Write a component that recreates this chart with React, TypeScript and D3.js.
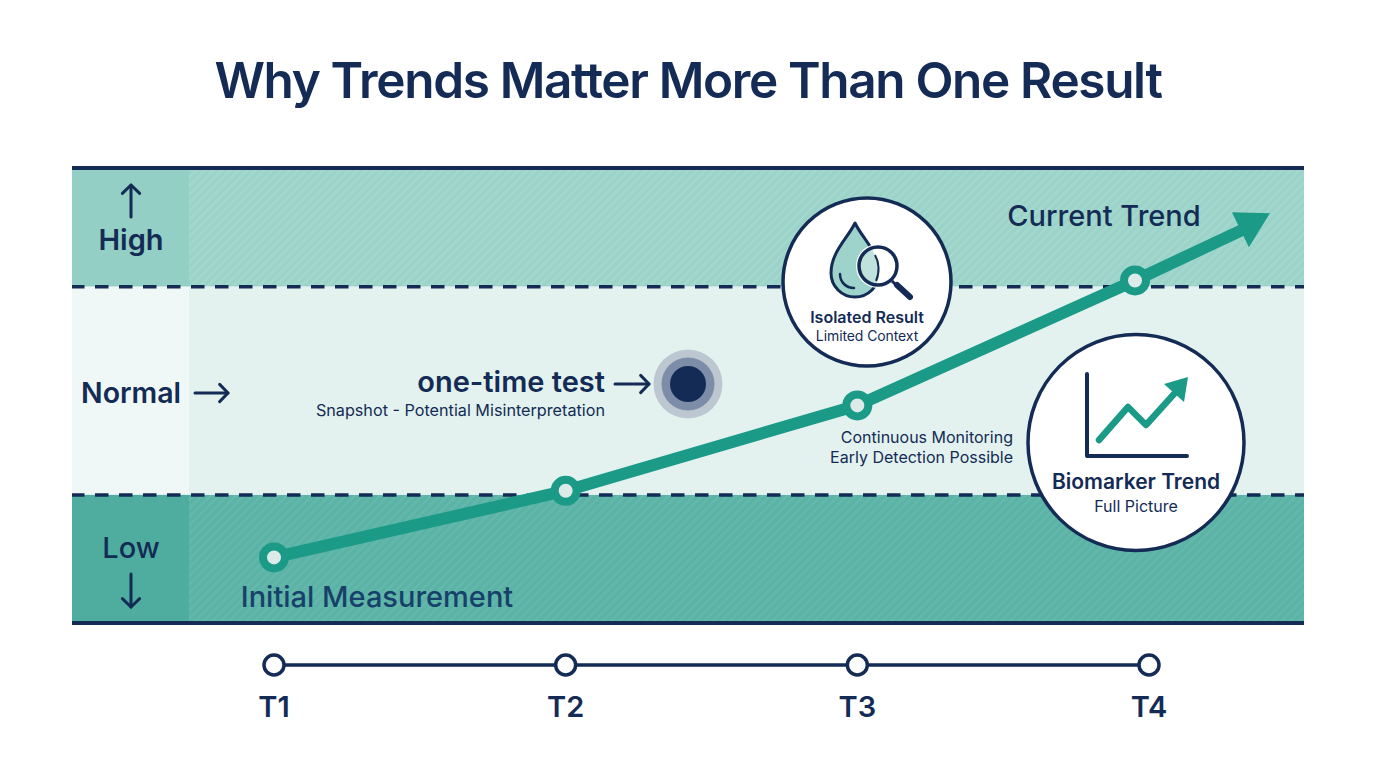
import React from "react";
import * as d3 from "d3";

const timeLabels = ["T1", "T2", "T3", "T4"];
const trendTimes = [0, 1, 2, 2.952];
const trendValues = [-30, 2, 43, 103];
const trendEnd = { index: 3.346, value: 129 };
const bandNames = ["High", "Normal", "Low"];
const bandTops = [157, 100, 0];
const bandBottoms = [100, 0, -61.5];
const bandFills = ["#9bd3c9", "#e3f2ef", "#5ab3a5"];
const bandStubFills = ["#93cfc4", "#eff8f7", "#4fad9f"];
const bandStripes = ["#a4d7ce", "#e3f2ef", "#63b8ab"];
const thresholds = [100, 0];

const NAVY = "#132b55";
const TEAL = "#1b9a88";
const FONT = "Inter, 'Noto Sans', sans-serif";

const W = 1376;
const H = 768;
const x = d3.scaleLinear().domain([0, 3]).range([274, 1149]);
const y = d3.scaleLinear().domain([-61.5, 157]).range([623, 168]);
const PLOT_L = 72;
const PLOT_R = 1304;
const STUB_R = 189;
const TL_Y = 665;

function Arrow({ x1, y1, x2, y2, size = 12, width = 3 }: any) {
  const a = Math.atan2(y2 - y1, x2 - x1);
  const p = (t: number) => `${x2 - size * Math.cos(a + t)},${y2 - size * Math.sin(a + t)}`;
  return (
    <g fill="none" stroke={NAVY} strokeWidth={width} strokeLinecap="round" strokeLinejoin="round">
      <line x1={x1} y1={y1} x2={x2} y2={y2} />
      <polyline points={`${p(0.8)} ${x2},${y2} ${p(-0.8)}`} />
    </g>
  );
}

function T({ x: tx, y: ty, size, weight = 600, anchor = "middle", fill = NAVY, spacing = 0, children }: any) {
  return (
    <text x={tx} y={ty} fontSize={size} fontWeight={weight} textAnchor={anchor} fill={fill} fontFamily={FONT} letterSpacing={spacing}>
      {children}
    </text>
  );
}

export default function App() {
  const pts: [number, number][] = trendValues.map((v, i) => [x(trendTimes[i]), y(v)]);
  const ex = x(trendEnd.index);
  const ey = y(trendEnd.value);
  const line = d3.line()(pts.concat([[ex, ey]])) as string;

  return (
    <svg
      width={W}
      height={H}
      viewBox={`0 0 ${W} ${H}`}
      style={{ position: "absolute", left: 0, top: 0, display: "block", background: "#fff" }}
    >
      <defs>
        {bandNames.map((n, i) => (
          <pattern key={n} id={`st${i}`} width="6" height="6" patternUnits="userSpaceOnUse" patternTransform="rotate(-45)">
            <rect width="6" height="6" fill={bandFills[i]} />
            <rect width="6" height="2.5" fill={bandStripes[i]} />
          </pattern>
        ))}
        <clipPath id="dropClip">
          <path d="M855,223 C848,238 831,252 831,273 A24,24 0 0 0 879,273 C879,252 862,238 855,223 Z" />
        </clipPath>
      </defs>

      <T x={688} y={98} size={49.5} spacing={-1.35}>Why Trends Matter More Than One Result</T>

      {bandNames.map((n, i) => (
        <g key={n}>
          <rect x={PLOT_L} y={y(bandTops[i])} width={PLOT_R - PLOT_L} height={y(bandBottoms[i]) - y(bandTops[i])} fill={`url(#st${i})`} />
          <rect x={PLOT_L} y={y(bandTops[i])} width={STUB_R - PLOT_L} height={y(bandBottoms[i]) - y(bandTops[i])} fill={bandStubFills[i]} />
        </g>
      ))}

      <line x1={PLOT_L} x2={PLOT_R} y1={y(157)} y2={y(157)} stroke={NAVY} strokeWidth={4} />
      <line x1={PLOT_L} x2={PLOT_R} y1={y(-61.5)} y2={y(-61.5)} stroke={NAVY} strokeWidth={4} />
      {thresholds.map((t) => (
        <line key={t} x1={PLOT_L} x2={PLOT_R} y1={y(t)} y2={y(t)} stroke={NAVY} strokeWidth={3.5} strokeDasharray="13.5 10.5" strokeDashoffset={1} />
      ))}

      <Arrow x1={131} y1={217} x2={131} y2={185} />
      <T x={131} y={250} size={29}>High</T>
      <T x={81} y={403} size={28.5} anchor="start">Normal</T>
      <Arrow x1={195} y1={393} x2={228} y2={393} />
      <T x={131} y={558} size={29} weight={500}>Low</T>
      <Arrow x1={131} y1={574} x2={131} y2={607} />

      {/* trend */}
      <path d={line} fill="none" stroke={TEAL} strokeWidth={12} strokeLinejoin="round" />
      <polygon points={`${ex + 20},${ey - 13} ${ex - 18},${ey - 14} ${ex - 1},${ey + 21}`} fill={TEAL} />
      {pts.map((p, i) => (
        <circle key={timeLabels[i]} cx={p[0]} cy={p[1]} r={11} fill="#dcebe8" stroke={TEAL} strokeWidth={8} />
      ))}

      <T x={1104} y={226} size={29} weight={500}>Current Trend</T>
      <T x={377} y={607} size={29} weight={500} fill="#17406a">Initial Measurement</T>

      {/* one-time test */}
      <T x={605} y={392} size={29} anchor="end">one-time test</T>
      <T x={605} y={416} size={16.2} weight={400} anchor="end">Snapshot - Potential Misinterpretation</T>
      <Arrow x1={615} y1={384} x2={649} y2={384} />
      <circle cx={688} cy={384} r={34.5} fill="#bcc7d1" />
      <circle cx={688} cy={384} r={26.5} fill="#7d8ca7" />
      <circle cx={688} cy={384} r={18} fill={NAVY} />

      <T x={1013} y={443} size={16} weight={400} anchor="end">Continuous Monitoring</T>
      <T x={1013} y={463} size={16} weight={400} anchor="end">Early Detection Possible</T>

      {/* isolated result */}
      <circle cx={867} cy={282} r={84} fill="#fff" stroke={NAVY} strokeWidth={3.5} />
      <path d="M855,223 C848,238 831,252 831,273 A24,24 0 0 0 879,273 C879,252 862,238 855,223 Z" fill="#9dd3ca" stroke={NAVY} strokeWidth={3} strokeLinejoin="round" />
      <path d="M840,274 C840,282 846,288 854,288" fill="none" stroke={NAVY} strokeWidth={2.5} strokeLinecap="round" />
      <circle cx={878} cy={266} r={22} fill="#fff" />
      <g clipPath="url(#dropClip)">
        <circle cx={878} cy={266} r={19} fill="#bfe2dc" />
      </g>
      <path d="M875,255 C879,262 880,272 876,281" fill="none" stroke={NAVY} strokeWidth={2} />
      <circle cx={878} cy={266} r={19} fill="none" stroke={NAVY} strokeWidth={3.5} />
      <line x1={892} y1={281} x2={898} y2={287} stroke={NAVY} strokeWidth={3} />
      <line x1={897} y1={285} x2={910} y2={297} stroke={NAVY} strokeWidth={6} strokeLinecap="round" />
      <T x={867} y={323} size={16}>Isolated Result</T>
      <T x={867} y={341} size={14} weight={400} spacing={-0.1}>Limited Context</T>

      {/* biomarker trend */}
      <circle cx={1136} cy={442.5} r={108} fill="#fff" stroke={NAVY} strokeWidth={3.5} />
      <polyline points="1087,374 1087,456 1187,456" fill="none" stroke={NAVY} strokeWidth={4} strokeLinecap="round" strokeLinejoin="round" />
      <polyline points="1099,440 1128,407 1146,425 1174,394" fill="none" stroke={TEAL} strokeWidth={6.5} strokeLinecap="round" strokeLinejoin="round" />
      <polygon points="1188,377 1164,384 1184,402" fill={TEAL} />
      <T x={1136} y={489} size={21}>Biomarker Trend</T>
      <T x={1136} y={512} size={16} weight={400}>Full Picture</T>

      {/* time axis */}
      <line x1={x(0)} x2={x(3)} y1={TL_Y} y2={TL_Y} stroke={NAVY} strokeWidth={3.5} />
      {timeLabels.map((t, i) => (
        <g key={t}>
          <circle cx={x(i)} cy={TL_Y} r={10} fill="#fff" stroke={NAVY} strokeWidth={3.5} />
          <T x={x(i)} y={717} size={29}>{t}</T>
        </g>
      ))}
    </svg>
  );
}
